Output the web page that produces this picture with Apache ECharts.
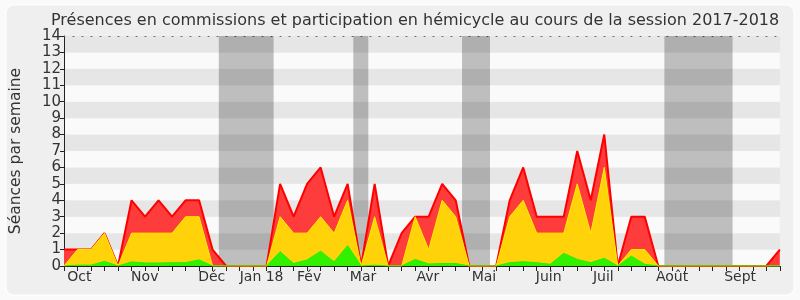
<!DOCTYPE html>
<html>
<head>
<meta charset="utf-8">
<script src="https://cdn.jsdelivr.net/npm/echarts@6/dist/echarts.min.js"></script>
<style>
html,body{margin:0;padding:0;background:#fafafa;}
#chart{width:800px;height:300px;}
</style>
</head>
<body>
<div id="chart"></div>
<script>
// Week index 0..53 of the 2017-2018 session
const weeks = Array.from({length: 54}, (_, i) => i);
// Red: total presences per week
const redValues = [1,1,1,2,0,4,3,4,3,4,4,1,0,0,0,0,5,3,5,6,3,5,0,5,0,2,3,3,5,4,0,0,0,4,6,3,3,3,7,4,8,0,3,3,0,0,0,0,0,0,0,0,0,1];
// Yellow
const yellowValues = [0,1,1,2,0,2,2,2,2,3,3,0,0,0,0,0,3,2,2,3,2,4,0,3,0,0,3,1,4,3,0,0,0,3,4,2,2,2,5,2,6,0,1,1,0,0,0,0,0,0,0,0,0,0];
// Green
const greenValues = [0,0.05,0.05,0.28,0,0.25,0.18,0.18,0.2,0.2,0.37,0,0,0,0,0,0.87,0.15,0.37,0.9,0.25,1.24,0,0.05,0,0,0.4,0.12,0.15,0.15,0,0,0,0.2,0.26,0.2,0.1,0.77,0.4,0.2,0.47,0,0.6,0.1,0,0,0,0,0,0,0,0,0,0];
// Month tick labels and their positions (in weeks)
const monthLabels = ['Oct','Nov','Déc','Jan 18','Fév','Mar','Avr','Mai','Juin','Juil','Août','Sept'];
const monthPositions = [1.13,5.98,10.94,14.63,18.15,22.14,26.94,31.09,35.89,39.93,45.02,50.06];
// Parliamentary vacation periods (in weeks)
const vacationStart = [11.46,21.42,29.47,44.45];
const vacationEnd = [15.52,22.53,31.54,49.5];

const FONT = 'DejaVu Sans';
const chart = echarts.init(document.getElementById('chart'), null, {renderer:'canvas'});
const toPairs = arr => arr.map((v,i) => [weeks[i], v]);

const option = {
  backgroundColor: 'transparent',
  animation: false,
  graphic: [{
    type: 'rect', z: -10, silent: true,
    shape: {x: 6, y: 5, width: 788, height: 290, r: 8},
    style: {fill: '#efefef', stroke: '#ffffff', lineWidth: 1}
  }],
  title: {
    text: 'Présences en commissions et participation en hémicycle au cours de la session 2017-2018',
    left: 46, top: 8,
    textStyle: {fontFamily: FONT, fontSize: 16, fontWeight: 'normal', color: '#333'}
  },
  grid: {left: 61.7, right: 20.15, top: 36, bottom: 34, containLabel: false},
  xAxis: [{
    type: 'value', min: 0, max: 53, interval: 1, position: 'bottom',
    axisLine: {show: true, onZero: false, lineStyle: {color: '#222', width: 1}},
    axisTick: {show: true, customValues: weeks, length: 5, lineStyle: {color: '#222'}},
    axisLabel: {
      show: true, customValues: monthPositions,
      formatter: v => { const k = monthPositions.indexOf(v); return k >= 0 ? monthLabels[k] : ''; },
      fontFamily: FONT, fontSize: 14, color: '#333', margin: 4
    },
    splitLine: {show: false}
  }, {
    type: 'value', min: 0, max: 53, position: 'top',
    axisLine: {show: true, onZero: false, lineStyle: {color: '#666', width: 1, type: [1, 8]}},
    axisTick: {show: false}, axisLabel: {show: false}, splitLine: {show: false}
  }],
  yAxis: {
    type: 'value', min: 0, max: 14, interval: 1,
    name: 'Séances par semaine', nameLocation: 'middle', nameRotate: 90, nameGap: 40,
    nameTextStyle: {fontFamily: FONT, fontSize: 15.5, color: '#333'},
    axisLine: {show: true, lineStyle: {color: '#222'}},
    axisTick: {show: true, length: 4, lineStyle: {color: '#222'}},
    axisLabel: {fontFamily: FONT, fontSize: 15, color: '#333', margin: 3},
    splitLine: {show: false},
    splitArea: {show: true, areaStyle: {color: ['#fafafa', '#e6e6e6']}}
  },
  series: [{
    type: 'line', data: [], z: 1, silent: true,
    markArea: {
      silent: true,
      itemStyle: {color: 'rgba(0,0,0,0.24)'},
      data: vacationStart.map((s, i) => [{xAxis: s}, {xAxis: vacationEnd[i]}])
    }
  }, {
    name: 'red', type: 'line', data: toPairs(redValues), z: 2, symbol: 'none',
    lineStyle: {color: '#ff0000', width: 2},
    areaStyle: {color: '#ff3c3c', opacity: 1}
  }, {
    name: 'yellow', type: 'line', data: toPairs(yellowValues), z: 3, symbol: 'none',
    lineStyle: {color: '#ffee00', width: 1},
    areaStyle: {color: '#ffd20a', opacity: 1}
  }, {
    name: 'green', type: 'line', data: toPairs(greenValues), z: 4, symbol: 'none',
    lineStyle: {color: '#22ee00', width: 1},
    areaStyle: {color: '#33f000', opacity: 1}
  }]
};
chart.setOption(option);
</script>
</body>
</html>
